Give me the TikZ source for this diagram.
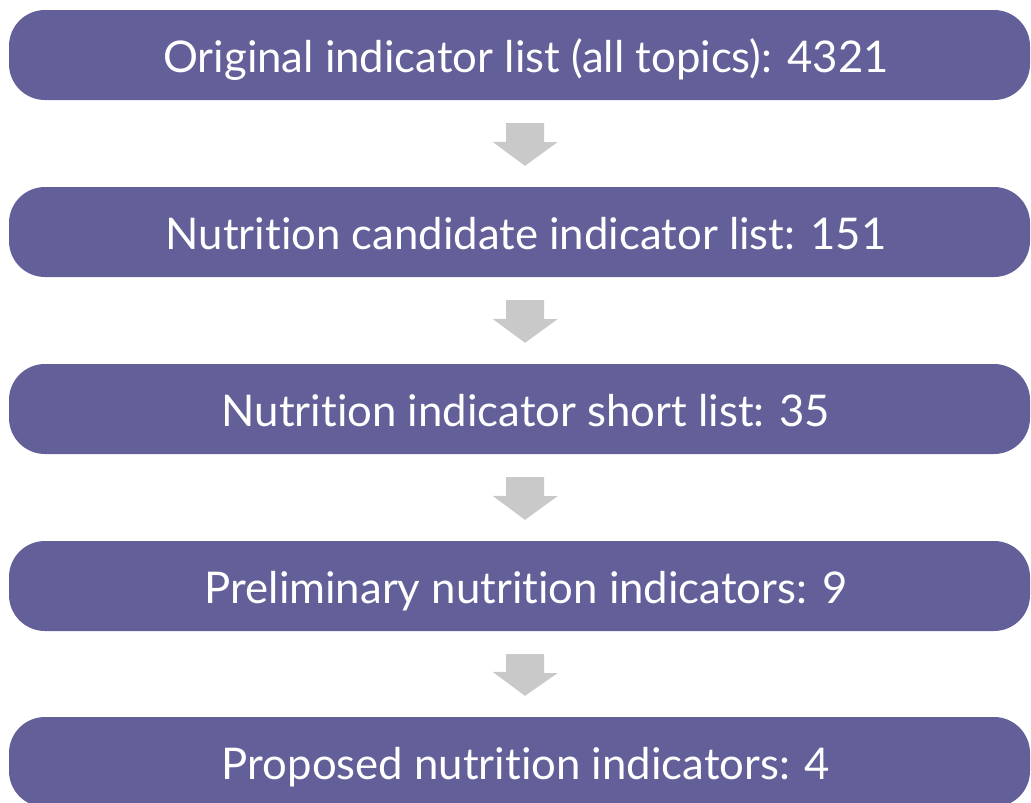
\documentclass[tikz,border=0pt]{standalone}
\usepackage{fontspec}
\setmainfont{Lato}[Ligatures=NoCommon]
\usetikzlibrary{calc}

\definecolor{stagepurple}{RGB}{99,96,153}
\definecolor{arrowgrey}{RGB}{201,201,201}

\tikzset{
	stage/.style={fill=stagepurple, rounded corners=36pt, minimum width=1021pt, minimum height=90pt, inner sep=0pt,
		text height=34pt, text depth=0pt, text=white, font=\fontsize{43.7}{50}\selectfont,
		execute at begin node=\hspace*{13pt}},
	downarrow/.style={fill=arrowgrey}
}

\begin{document}
\begin{tikzpicture}[x=1pt,y=-1pt]
	\useasboundingbox (0,0) rectangle (1031,803);
	\node[stage] (s1) at (519.5,55) {Original indicator list (all topics): 4321};
	\node[stage] (s2) at (519.5,232) {Nutrition candidate indicator list: 151};
	\node[stage] (s3) at (519.5,409) {Nutrition indicator short list: 35};
	\node[stage] (s4) at (519.5,586) {Preliminary nutrition indicators: 9};
	\node[stage] (s5) at (519.5,762) {Proposed nutrition indicators: 4};
	\foreach \a/\b in {s1/s2, s2/s3, s3/s4, s4/s5} {
		\fill[downarrow] ($(\a.south)+(5.5,23)$) ++(-19,0) -- ++(38,0) -- ++(0,19) -- ++(13.5,0)
			-- ($(\b.north)+(5.5,-21)$) -- ++(-32.5,-24) -- ++(13.5,0) -- cycle;
	}
\end{tikzpicture}
\end{document}
